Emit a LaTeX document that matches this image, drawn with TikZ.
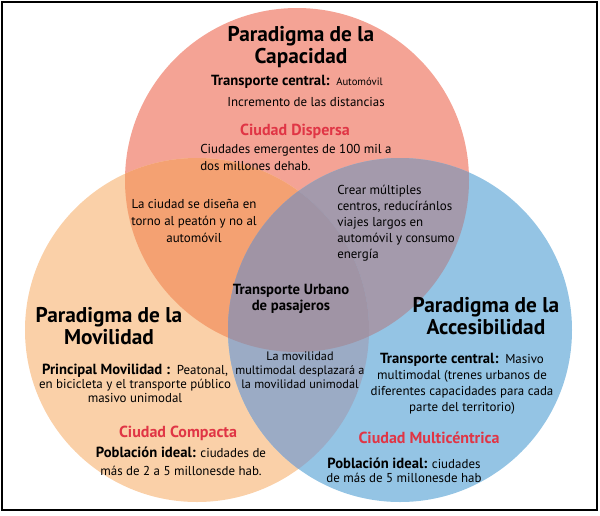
\documentclass[tikz,border=0pt]{standalone}
\usepackage{fontspec}
\setmainfont{PT Sans}
\usepackage{xcolor}
\usepackage{tikz}
\usetikzlibrary{positioning}
\definecolor{capac}{HTML}{F4A395}
\definecolor{movil}{HTML}{FAD0A8}
\definecolor{acces}{HTML}{94C4E4}
\definecolor{capmov}{HTML}{F4A172}
\definecolor{capacc}{HTML}{A49AAC}
\definecolor{movacc}{HTML}{9BABC5}
\definecolor{centro}{HTML}{A094A5}
\definecolor{rojo}{HTML}{E03545}
\tikzstyle{paradigma} = [font=\fontsize{16}{16.5}\selectfont\bfseries, align=center, inner sep=0pt]
\tikzstyle{texto} = [font=\fontsize{9.7}{12}\selectfont, align=center, inner sep=0pt]
\tikzstyle{ciudad} = [font=\fontsize{12}{12}\selectfont\bfseries, text=rojo, inner sep=0pt]
\newcommand{\etiq}[1]{{\fontsize{11}{12}\selectfont\bfseries #1}}

\begin{document}
\begin{tikzpicture}[x=0.75pt, y=-0.75pt]
    \useasboundingbox (0,0) rectangle (600,515);
    % circles
    \fill [capac] (297,180) circle [radius=129pt];
    \fill [movil] (197,330) circle [radius=129pt];
    \fill [acces] (400,330) circle [radius=129pt];
    \begin{scope}
        \clip (297,180) circle [radius=129pt];
        \fill [capmov] (197,330) circle [radius=129pt];
        \fill [capacc] (400,330) circle [radius=129pt];
    \end{scope}
    \begin{scope}
        \clip (197,330) circle [radius=129pt];
        \fill [movacc] (400,330) circle [radius=129pt];
        \clip (297,180) circle [radius=129pt];
        \fill [centro] (400,330) circle [radius=129pt];
    \end{scope}
    \draw [line width=1.2pt] (2,2) rectangle (597,510);

    % capacidad
    \node (capTitle) [paradigma] at (301,47) {Paradigma de la\\Capacidad};
    \node (capTransp) [texto] at (297,82) {\etiq{Transporte central:}\, {\fontsize{8}{9}\selectfont Automóvil}};
    \node (capDist) [texto] at (306,102) {Incremento de las distancias};
    \node (capCiudad) [ciudad] at (295,131) {Ciudad Dispersa};
    \node (capPob) [texto, align=left, anchor=west, font=\fontsize{9.7}{12.75}\selectfont] at (200,157) {Ciudades emergentes de 100 mil a\\dos millones dehab.};

    % movilidad
    \node (movTitle) [paradigma] at (109,326) {Paradigma de la\\Movilidad};
    \node (movPrinc) [texto, font=\fontsize{9.7}{10.5}\selectfont] at (135,383) {\etiq{Principal Movilidad :}\, Peatonal,\\en bicicleta y el transporte público\\masivo unimodal};
    \node (movCiudad) [ciudad] at (178,433) {Ciudad Compacta};
    \node (movPob) [texto, font=\fontsize{9.7}{13.5}\selectfont] at (181,461) {\etiq{Población ideal:} ciudades de\\más de 2 a 5 millonesde hab.};

    % accesibilidad
    \node (accTitle) [paradigma] at (486,316) {Paradigma de la\\Accesibilidad};
    \node (accTransp) [texto] at (462,384) {\etiq{Transporte central:}\, Masivo\\multimodal (trenes urbanos de\\diferentes capacidades para cada\\parte del territorio)};
    \node (accCiudad) [ciudad] at (429,438) {Ciudad Multicéntrica};
    \node (accPob) [texto, font=\fontsize{9.7}{10.5}\selectfont] at (404,470) {\etiq{Población ideal:} ciudades\\de más de 5 millonesde hab};

    % intersecciones
    \node (capMov) [texto, font=\fontsize{9.7}{12.75}\selectfont] at (194,221) {La ciudad se diseña en\\torno al peatón y no al\\automóvil};
    \node (capAcc) [texto, align=left, anchor=west] at (337,223) {Crear múltiples\\centros, reducíránlos\\viajes largos en\\automóvil y consumo\\energía};
    \node (movAcc) [texto, font=\fontsize{9.2}{10.5}\selectfont] at (300,370) {La movilidad\\multimodal desplazará a\\la movilidad unimodal};
    \node (transporte) [texto, font=\fontsize{11}{12}\selectfont\bfseries] at (291,299) {Transporte Urbano\\de pasajeros};
\end{tikzpicture}
\end{document}
